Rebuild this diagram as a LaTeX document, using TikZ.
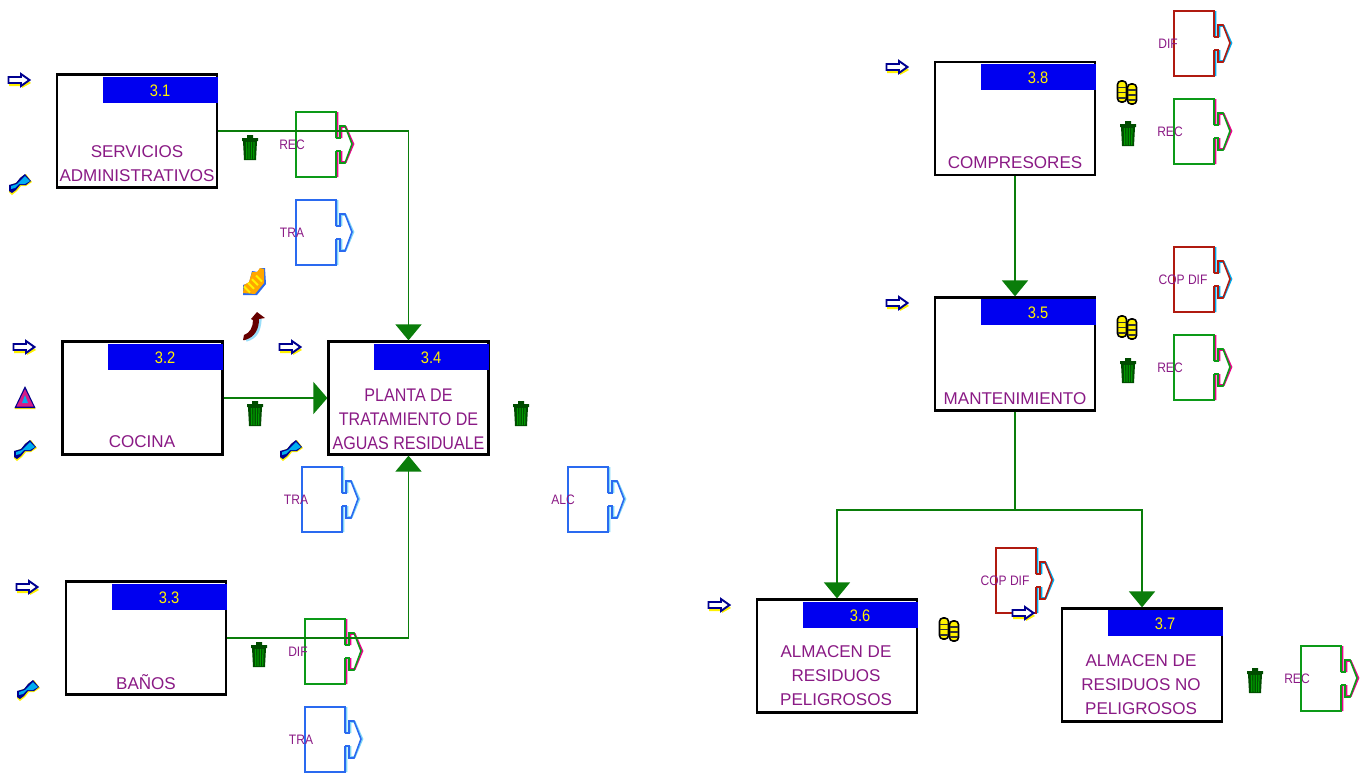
\documentclass[tikz,border=0pt]{standalone}
\usepackage{fontspec}
\setmainfont{Liberation Sans}
\newfontfamily\narrowfont[FakeStretch=.88]{Liberation Sans}
\usetikzlibrary{arrows.meta}
\definecolor{linegreen}{HTML}{0A7D0A}
\definecolor{txtpurple}{HTML}{8A1A85}
\definecolor{tabblue}{HTML}{0000F0}
\definecolor{flagred}{HTML}{B01A10}
\definecolor{flaggreen}{HTML}{0C9A18}
\definecolor{flagblue}{HTML}{2A6AF0}
\definecolor{navy}{HTML}{000090}
\tikzset{
  procbox/.style={draw=black,line width=1.3pt,fill=white,minimum width=3.2cm,minimum height=2.26cm,inner sep=0pt},
  numtab/.style={fill=tabblue,text=yellow,minimum width=2.3cm,minimum height=.52cm,inner sep=0pt,font=\narrowfont\fontsize{9.5}{10}\selectfont},
  proctxt/.style={text=txtpurple,align=center,font=\fontsize{9.7}{13.6}\selectfont,inner sep=0pt},
  flagtxt/.style={text=txtpurple,font=\narrowfont\fontsize{7.8}{9}\selectfont,inner sep=0pt},
  link/.style={draw=linegreen,line width=1pt,-{Triangle[length=.32cm,width=.52cm]}},
  sidelink/.style={draw=linegreen,line width=1pt,-{Triangle[length=.28cm,width=.64cm]}},
  flag/.pic={
    \draw[pic actions,line width=.9pt,line join=miter]
      (40,26)--(40,0)--(0,0)--(0,65)--(40,65)--(40,39)
      (40,26)--(44,26)--(44,14)--(49,14)--(56,32)--(49,51)--(44,51)--(44,39)--(40,39);
  },
  flaghalo/.pic={
    \draw[pic actions,line width=.9pt]
      (41.5,26)--(41.5,0) (41.5,65)--(41.5,39)
      (45.5,26)--(45.5,15)--(50,15)--(57.5,32)--(50,50)--(45.5,50)--(45.5,39);
  },
  inarrow/.pic={
    \fill[yellow] (-10,-1)--(3,-1)--(3,-4)--(12,3)--(3,8)--(3,6)--(-10,6)--cycle;
    \draw[navy,fill=white,line width=1.1pt] (-10.5,-3)--(2,-3)--(2,-6)--(10.5,0)--(2,6)--(2,3)--(-10.5,3)--cycle;
  },
  bolt/.pic={
    \fill[yellow] (-11,8)--(-11,2)--(-3,-2)--(1,-7)--(6,-10)--(12,-2)--(6,2)--(1,2)--(-3,7)--(-8,11)--cycle;
    \fill[navy] (-11,7)--(-11,1)--(-4,-1)--(0,-6)--(5,-10)--(11,-3)--(6,1)--(0,1)--(-4,6)--(-8,9)--cycle;
    \fill[cyan] (-9,5)--(-9,2)--(-3,0)--(1,-4)--(5,-8)--(10,-3)--(5,0)--(-1,0)--(-5,4)--cycle;
  },
  warntri/.pic={
    \fill[yellow] (-10.5,12)--(0,-10)--(10.5,12)--cycle;
    \fill[navy] (-10.5,11)--(0,-11)--(10.5,11)--cycle;
    \fill[magenta!75!violet] (-8.5,9.5)--(0,-8)--(8.5,9.5)--cycle;
    \fill[cyan] (-3,6)--(0,-2)--(3,6)--cycle;
  },
  trashcan/.pic={
    \fill[green!30!black] (-8,-10)--(8,-10)--(8,-7)--(-8,-7)--cycle (-3,-13) rectangle (3,-10);
    \fill[green!30!black] (-7,-7)--(7,-7)--(6,12)--(-6,12)--cycle;
    \foreach \s in {-3.5,-1,1.5,4} {
      \draw[green!60!black,line width=.7pt] (\s,-6)--(\s*.9,11);
    }
  },
  coinstack/.pic={
    \foreach \s/\t/\h in {-5/-11/21,5/-8/20} {
      \fill[yellow,draw=black,line width=.9pt,rounded corners=2pt] (\s-4.5,\t) rectangle (\s+4.5,\t+\h);
      \foreach \r in {.3,.55,.8} {
        \draw[black!80,line width=.8pt] (\s-4,\t+\r*\h)--(\s+4,\t+\r*\h);
      }
    }
  },
  fingers/.pic={
    \fill[flagblue] (-11,12)--(-11,2)--(-5,0)--(-2,-12)--(4,-11)--(6,-15)--(11,-15)--(12,1)--(3,12)--cycle;
    \fill[orange!70!yellow] (-11,10)--(-10,2)--(-5,-1)--(-2,-11)--(3,-11)--(6,-15)--(10,-14)--(10,0)--(1,11)--cycle;
    \foreach \s in {-6,-2,2,6} {
      \draw[yellow,line width=1.1pt] (\s-4,-\s*.9-2)--(\s+2,-\s*.9+4);
    }
  },
  redarrow/.pic={
    \draw[cyan!40,line width=2pt] (-8,15)..controls (2,12) and (5,6) ..(6,-6);
    \fill[red!40!black] (-11,15)--(-10,10)..controls (-4,8) and (-1,2) ..(-1,-5)--(-3,-6)--(3,-13)--(11,-7)--(5,-6)
      ..controls (5,4) and (1,12) ..(-9,15)--cycle;
  }
}
\begin{document}
\begin{tikzpicture}[x=.02cm,y=-.02cm]
  \useasboundingbox (0,0) rectangle (1368,772);
  % process boxes
  \foreach \n/\x/\y in {31/137/131,32/142.5/398,33/146/638,34/408.5/398,38/1015/118.5,35/1015/354,36/837/656,37/1142/665} {
    \node[procbox] (box\n) at (\x,\y) {};
  }
  \node[numtab,anchor=north east] (tab31) at (218,77) {3.1};
  \node[numtab,anchor=north east] (tab32) at (223,344) {3.2};
  \node[numtab,anchor=north east] (tab33) at (227,584) {3.3};
  \node[numtab,anchor=north east] (tab34) at (489,344) {3.4};
  \node[numtab,anchor=north east] (tab38) at (1096,64) {3.8};
  \node[numtab,anchor=north east] (tab35) at (1096,299) {3.5};
  \node[numtab,anchor=north east] (tab36) at (918,602) {3.6};
  \node[numtab,anchor=north east] (tab37) at (1223,610) {3.7};
  \node[proctxt] (txt31) at (137,164) {SERVICIOS\\ADMINISTRATIVOS};
  \node[proctxt] (txt32) at (142,442) {COCINA};
  \node[proctxt] (txt33) at (146,682) {BAÑOS};
  \node[proctxt,font=\narrowfont\fontsize{10.4}{13.6}\selectfont] (txt34) at (408.5,419) {PLANTA DE\\TRATAMIENTO DE\\AGUAS RESIDUALE};
  \node[proctxt] (txt38) at (1015,163) {COMPRESORES};
  \node[proctxt] (txt35) at (1015,399) {MANTENIMIENTO};
  \node[proctxt] (txt36) at (836,676) {ALMACEN DE\\RESIDUOS\\PELIGROSOS};
  \node[proctxt] (txt37) at (1141,685) {ALMACEN DE\\RESIDUOS NO\\PELIGROSOS};
  % flags
  \foreach \n/\x/\y/\c/\g/\t/\lx in {
    a/296/112/flaggreen/magenta/REC/-4,
    b/296/200/flagblue/cyan!50/TRA/-4,
    c/302/467/flagblue/cyan!50/TRA/-6,
    d/568/467/flagblue/cyan!50/ALC/-5,
    e/305/619/flaggreen/magenta/DIF/-7,
    f/305/707/flagblue/cyan!50/TRA/-4,
    g/1174/11/flagred/cyan/DIF/-6,
    h/1174/99/flaggreen/magenta/REC/-4,
    i/1174/247/flagred/cyan/COP DIF/9,
    j/1174/335/flaggreen/magenta/REC/-4,
    k/996/548/flagred/cyan/COP DIF/9,
    l/1301/646/flaggreen/magenta/REC/-4} {
    \pic[draw=\g] at (\x,\y) {flaghalo};
    \pic[draw=\c] at (\x,\y) {flag};
    \node[flagtxt] (lbl\n) at (\x+\lx,\y+32.5) {\t};
  }
  % connectors
  \draw[link] (box31.east)-|(box34.north);
  \draw[sidelink] (box32.east)--(box34.west);
  \draw[link] (box33.east)-|(box34.south);
  \draw[link] (box38.south)--(box35.north);
  \coordinate (split) at (1015,510);
  \draw[link] (box35.south)--(split)-|(box36.north);
  \draw[link] (split)-|(box37.north);
  % icons
  \foreach \x/\y in {19/80,24/347,290/347,27/587,897/67,897/303,719/605,1023/613} {
    \pic at (\x,\y) {inarrow};
  }
  \foreach \x/\y in {20/184,25/450,291/450,28/690} {
    \pic at (\x,\y) {bolt};
  }
  \foreach \x/\y in {250/148,255/414,521/414,259/655,1128/134,1128/371,1255/681} {
    \pic at (\x,\y) {trashcan};
  }
  \foreach \x/\y in {1127/92,1127/327,949/629} {
    \pic at (\x,\y) {coinstack};
  }
  \pic at (25,397) {warntri};
  \pic at (254,283) {fingers};
  \pic at (254,325) {redarrow};
\end{tikzpicture}
\end{document}
